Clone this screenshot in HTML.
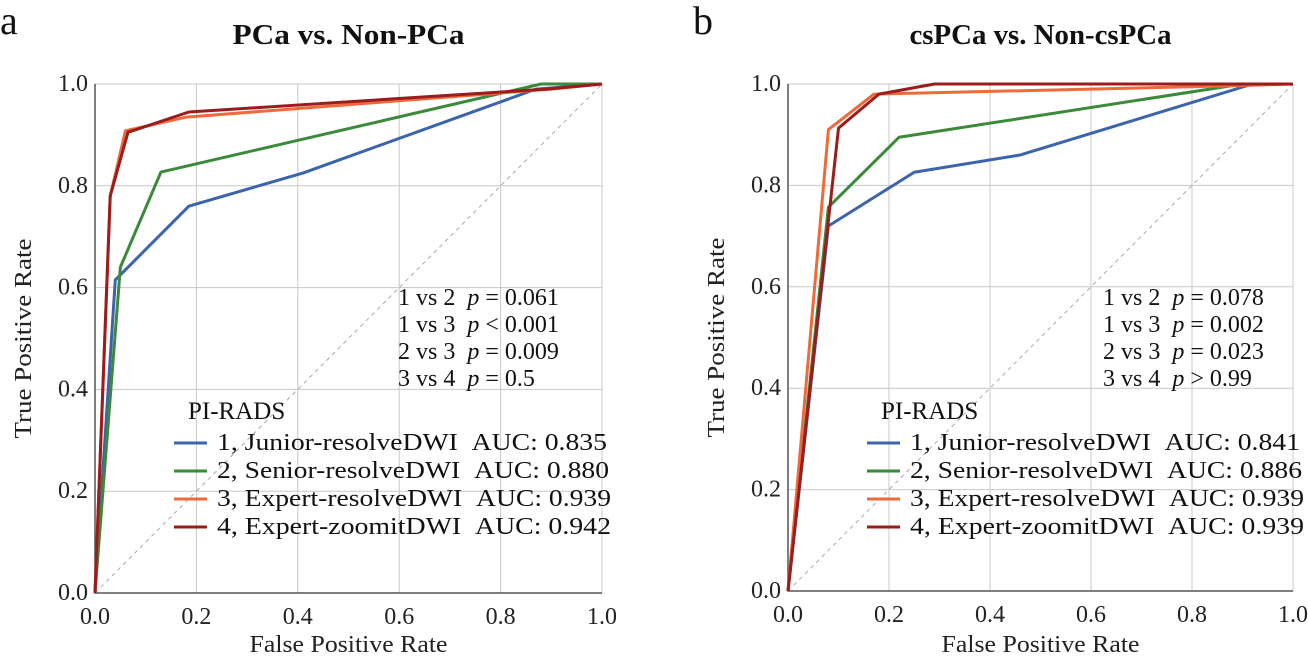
<!DOCTYPE html>
<html><head><meta charset="utf-8"><style>
body{margin:0;background:#fff;}
svg{display:block;}
svg text{font-family:"Liberation Serif","Times New Roman","Tinos","Noto Serif CJK SC","DejaVu Serif",serif;}
</style></head><body>
<svg id="chart" width="1308" height="661" viewBox="0 0 1308 661"></svg>
<script>
const ticks=[0,0.2,0.4,0.6,0.8,1.0];
const tickLabels=["0.0","0.2","0.4","0.6","0.8","1.0"];
const seriesNames=["1, Junior-resolveDWI","2, Senior-resolveDWI","3, Expert-resolveDWI","4, Expert-zoomitDWI"];
const colors=["#3b64ad","#3a8a3a","#ef6a3a","#9b1c1c"];
const aucA=["0.835","0.880","0.939","0.942"];
const aucB=["0.841","0.886","0.939","0.939"];
const pA=[["1 vs 2","=","0.061"],["1 vs 3","<","0.001"],["2 vs 3","=","0.009"],["3 vs 4","=","0.5"]];
const pB=[["1 vs 2","=","0.078"],["1 vs 3","=","0.002"],["2 vs 3","=","0.023"],["3 vs 4",">","0.99"]];
const fprA=[[0,0.04,0.185,0.41,0.87,1],[0,0.05,0.13,0.88,1],[0,0.03,0.06,0.18,0.9,1],[0,0.03,0.065,0.185,0.89,1]];
const tprA=[[0,0.615,0.76,0.825,0.99,1],[0,0.64,0.827,1.0,1],[0,0.78,0.908,0.935,0.99,1],[0,0.78,0.905,0.945,0.99,1]];
const fprB=[[0,0.08,0.25,0.46,0.92,1],[0,0.08,0.22,0.9,1],[0,0.08,0.17,0.9,1],[0,0.1,0.18,0.29,1]];
const tprB=[[0,0.72,0.826,0.86,1,1],[0,0.757,0.895,1,1],[0,0.91,0.98,0.997,1],[0,0.913,0.98,1.0,1]];

const NS="http://www.w3.org/2000/svg";
const svg=document.getElementById('chart');
const SP='\u00A0';
function el(tag,attrs,parent,text){const e=document.createElementNS(NS,tag);for(const k in attrs)e.setAttribute(k,attrs[k]);if(text!==undefined)e.textContent=text;(parent||svg).appendChild(e);return e;}
function fit(e,w){e.setAttribute('textLength',w);e.setAttribute('lengthAdjust','spacingAndGlyphs');}

function panel(id,letter,title,titleW,x0,x1,y0,y1,fpr,tpr,auc,pv,legX,pX){
  const g=el('g',{},svg);
  
  
  const sx=v=>x0+v*(x1-x0), sy=v=>y0-v*(y0-y1);
  ticks.forEach((t,i)=>{
    if(t>0){const l=el('line',{x1:sx(t),x2:sx(t),y1:sy(0),y2:sy(1),stroke:'#c8c8c8','stroke-width':1},g);
      
      const m=el('line',{x1:sx(0),x2:sx(1),y1:sy(t),y2:sy(t),stroke:'#c8c8c8','stroke-width':1},g);
      }
    const tx=el('text',{x:sx(t),y:y0+31,'text-anchor':'middle','font-size':24,fill:'#222'},g,tickLabels[i]);
    
    const ty=el('text',{x:x0-7,y:sy(t)+7,'text-anchor':'end','font-size':24,fill:'#222'},g,tickLabels[i]);
    
  });
  const d=el('line',{x1:sx(0),y1:sy(0),x2:sx(1),y2:sy(1),stroke:'#aaa','stroke-dasharray':'4,4','stroke-width':1},g);
  
  const ax=el('path',{d:`M${x0},${y1} L${x0},${y0} L${x1},${y0}`,fill:'none',stroke:'#555','stroke-width':1.5},g);
  
  for(let s=0;s<4;s++){
    const pts=fpr[s].map((f,i)=>sx(f)+','+sy(tpr[s][i])).join(' ');
    const pl=el('polyline',{points:pts,fill:'none',stroke:colors[s],'stroke-width':3,'stroke-linejoin':'round'},g);
    
  }
  const lt=el('text',{x:x0-95,y:34,'font-size':40,fill:'#111'},g,letter);
  
  const tt=el('text',{x:(x0+x1)/2-titleW/2,y:44,'font-size':28,'font-weight':'bold',fill:'#111'},g,title);
  fit(tt,titleW);
  
  const xt=el('text',{x:(x0+x1)/2-99,y:652,'font-size':24,fill:'#222'},g,'False Positive Rate');
  fit(xt,198);
  
  const yt=el('text',{x:-100,y:0,'font-size':24,fill:'#222',transform:`translate(${x0-64},${(y0+y1)/2}) rotate(-90)`},g,'True Positive Rate');
  fit(yt,200);
  
  pv.forEach((p,i)=>{
    const t=el('text',{x:pX,y:305+i*27,'font-size':24,fill:'#111'},g);
    
    el('tspan',{},t,p[0]+SP+SP);el('tspan',{'font-style':'italic'},t,'p');el('tspan',{},t,SP+p[1]+SP+p[2]);
  });
  const lh=el('text',{x:legX+26,y:419,'font-size':25,fill:'#111'},g,'PI-RADS');
  
  for(let s=0;s<4;s++){
    const yy=450+s*28;
    const ll=el('line',{x1:legX+12,x2:legX+45,y1:yy-7,y2:yy-7,stroke:colors[s],'stroke-width':3},g);
    
    const lx=el('text',{x:legX+55,y:yy,'font-size':24,fill:'#111'},g,seriesNames[s]+SP+SP+'AUC:'+SP+auc[s]);
    fit(lx,[390,392,394,394][s]);
    
  }
}
panel('a','a','PCa vs. Non-PCa',232,95,602,593,84,fprA,tprA,aucA,pA,162,398);
panel('b','b','csPCa vs. Non-csPCa',262,788,1293,591,84,fprB,tprB,aucB,pB,855,1103);
</script>
</body></html>
